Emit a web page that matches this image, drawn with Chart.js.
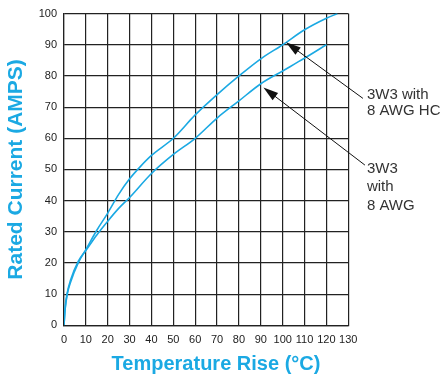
<!DOCTYPE html>
<html>
<head>
<meta charset="utf-8">
<script src="https://cdn.jsdelivr.net/npm/chart.js@4/dist/chart.umd.min.js"></script>
<style>
html,body{margin:0;padding:0;background:#fff;}
#wrap{width:443px;height:377px;position:relative;}
</style>
</head>
<body>
<div id="wrap"><canvas id="c" width="443" height="377"></canvas></div>
<script>
// ---- data ----
const tempHC  = [0, 0.5, 1.5, 3, 6.5, 10, 15, 20, 25, 30, 35, 40, 50, 60, 70, 80, 90, 100, 110, 120, 125];
const ampsHC  = [0, 5, 10, 13.8, 20, 24.3, 30.5, 36, 42, 47, 51, 54.5, 60, 67.5, 74, 80, 85.5, 90, 94.8, 98.5, 100];
const tempAWG = [0, 0.5, 1.5, 3, 6.5, 10, 15, 20, 25, 30, 40, 50, 60, 70, 80, 90, 100, 110, 120];
const ampsAWG = [0, 5.5, 10.5, 14.5, 20.5, 24, 29, 33.4, 37.5, 41, 48.7, 54.8, 60, 66.5, 72, 77.5, 81.6, 85.7, 90];
const xTickValues = [0,10,20,30,40,50,60,70,80,90,100,110,120,130];
const yTickValues = [0,10,20,30,40,50,60,70,80,90,100];
const labelHC  = ["3W3 with", "8 AWG HC"];
const labelAWG = ["3W3", "with", "8 AWG"];
const xTitle = "Temperature Rise (°C)";
const yTitle = "Rated Current (AMPS)";

const BLUE = '#1ba9e3';
const FONT = "'Liberation Sans', Arial, Helvetica, sans-serif";

function pts(xs, ys){ return xs.map((x,i)=>({x:x, y:ys[i]})); }

const annot = {
  id: 'annot',
  afterDraw(chart){
    const ctx = chart.ctx, xs = chart.scales.x, ys = chart.scales.y;
    const P = (x,y)=>[xs.getPixelForValue(x), ys.getPixelForValue(y)];
    function arrow(from, to){
      const [x1,y1] = P(from[0],from[1]);
      const [x2,y2] = P(to[0],to[1]);
      const ang = Math.atan2(y2-y1, x2-x1);
      const L = 15, W = 4.5;
      ctx.save();
      ctx.strokeStyle = '#111'; ctx.fillStyle = '#111'; ctx.lineWidth = 1;
      ctx.beginPath(); ctx.moveTo(x1,y1);
      ctx.lineTo(x2 - Math.cos(ang)*L*0.8, y2 - Math.sin(ang)*L*0.8); ctx.stroke();
      ctx.beginPath();
      ctx.moveTo(x2,y2);
      ctx.lineTo(x2 - Math.cos(ang)*L + Math.sin(ang)*W, y2 - Math.sin(ang)*L - Math.cos(ang)*W);
      ctx.lineTo(x2 - Math.cos(ang)*L - Math.sin(ang)*W, y2 - Math.sin(ang)*L + Math.cos(ang)*W);
      ctx.closePath(); ctx.fill();
      ctx.restore();
    }
    arrow([136.7, 72.8], [101.5, 90.8]);
    arrow([137.6, 51.4], [91.2, 76.3]);
    ctx.save();
    ctx.fillStyle = '#333';
    ctx.font = '15px ' + FONT;
    ctx.textAlign = 'left'; ctx.textBaseline = 'alphabetic';
    const tx = xs.getPixelForValue(138.5);
    ctx.fillText(labelHC[0], tx, 98.5);
    ctx.fillText(labelHC[1], tx, 115);
    ctx.fillText(labelAWG[0], tx, 172.5);
    ctx.fillText(labelAWG[1], tx, 191);
    ctx.fillText(labelAWG[2], tx, 210);
    // x axis title
    ctx.fillStyle = BLUE;
    ctx.font = 'bold 20px ' + FONT;
    ctx.textAlign = 'center';
    ctx.fillText(xTitle, 216, 369.5);
    ctx.restore();
  }
};

new Chart(document.getElementById('c'), {
  type: 'line',
  data: {
    datasets: [
      { label: '3W3 with 8 AWG HC', data: pts(tempHC, ampsHC), borderColor: BLUE, borderWidth: 1.6,
        pointRadius: 0, fill: false, cubicInterpolationMode: 'monotone' },
      { label: '3W3 with 8 AWG', data: pts(tempAWG, ampsAWG), borderColor: BLUE, borderWidth: 1.6,
        pointRadius: 0, fill: false, cubicInterpolationMode: 'monotone' }
    ]
  },
  options: {
    responsive: false,
    animation: false,
    events: [],
    layout: { padding: { top: 11.7, right: 94.7, bottom: 0, left: 0 } },
    plugins: { legend: { display: false }, tooltip: { enabled: false } },
    scales: {
      x: {
        type: 'linear', min: 0, max: 130,
        afterBuildTicks: (s)=>{ s.ticks = xTickValues.map(v=>({value:v})); },
        afterFit: (s)=>{ s.height = 51.7; },
        grid: { color: '#222', lineWidth: 1.2, drawTicks: false },
        border: { color: '#222', width: 1.2 },
        ticks: { padding: 8, color: '#222', font: { family: FONT, size: 11 }, maxRotation: 0, autoSkip: false }
      },
      y: {
        type: 'linear', min: 0, max: 100,
        afterBuildTicks: (s)=>{ s.ticks = yTickValues.map(v=>({value:v})); },
        afterFit: (s)=>{ s.width = 64; },
        grid: { color: '#222', lineWidth: 1.2, drawTicks: false },
        border: { color: '#222', width: 1.2 },
        ticks: { padding: 7, color: '#222', font: { family: FONT, size: 11 }, autoSkip: false },
        title: { display: true, text: yTitle, color: BLUE, font: { family: FONT, size: 21, weight: 'bold' }, padding: { top: 4, bottom: 4 } }
      }
    }
  },
  plugins: [annot]
});
</script>
</body>
</html>
